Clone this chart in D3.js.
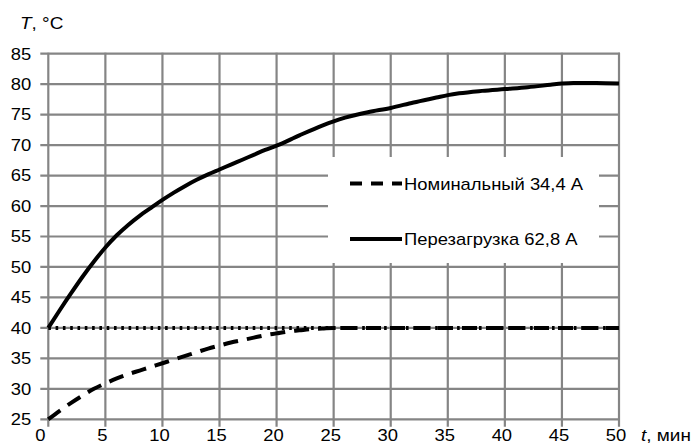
<!DOCTYPE html>
<html>
<head>
<meta charset="utf-8">
<script src="https://cdn.jsdelivr.net/npm/d3@7"></script>
<style>
  html, body { margin: 0; padding: 0; background: #fff; }
  svg { display: block; }
  text { font-family: "Liberation Sans", Arial, sans-serif; fill: #000; }
</style>
</head>
<body>
<svg id="chart" width="699" height="448"></svg>
<script>
// Heating curves of a conductor: temperature vs time
const xTicks = [0, 5, 10, 15, 20, 25, 30, 35, 40, 45, 50];
const yTicks = [25, 30, 35, 40, 45, 50, 55, 60, 65, 70, 75, 80, 85];

// Overload current 62,8 A
const overloadTime = [0, 1, 2, 3, 4, 5, 6, 7, 8, 9, 10, 11, 12, 13, 14, 15, 16, 17, 18, 19, 20,
                      22, 24, 25, 26, 28, 30, 32, 34, 35, 36, 38, 40, 42, 44, 45, 46, 48, 50];
const overloadTemp = [40, 42.9, 45.7, 48.4, 50.9, 53.2, 55.2, 56.9, 58.4, 59.7, 61.0, 62.2, 63.3, 64.3, 65.2, 66.0, 66.8, 67.6, 68.4, 69.2, 69.9,
                      71.6, 73.2, 73.9, 74.5, 75.4, 76.1, 77.0, 77.8, 78.2, 78.5, 78.9, 79.2, 79.5, 79.9, 80.1, 80.2, 80.2, 80.1];

// Nominal current 34,4 A
const nominalTime = [0, 1, 2, 3, 4, 5, 6, 7, 8, 9, 10, 11, 12, 13, 14, 15, 16, 17, 18, 19, 20,
                     21, 22, 23, 24, 25, 30, 35, 40, 45, 50];
const nominalTemp = [25, 26.4, 27.7, 28.9, 30.0, 30.9, 31.7, 32.4, 33.0, 33.6, 34.2, 34.8, 35.4, 36.0, 36.6, 37.1, 37.6, 38.0, 38.4, 38.8, 39.1,
                     39.4, 39.6, 39.8, 39.9, 40, 40, 40, 40, 40, 40];

// Reference level 40 °C
const levelTime = [0, 50];
const levelTemp = [40, 40];

const legendLabels = ["Номинальный 34,4 А", "Перезагрузка 62,8 А"];

const svg = d3.select("#chart");
const SX = 1.15;          // horizontal text stretch
const FS = 16;

const x = d3.scaleLinear().domain([0, 50]).range([48.3, 619]);
const y = d3.scaleLinear().domain([25, 85]).range([419.3, 53.7]);

function label(parent, px, py, anchor, build) {
  const g = parent.append("g").attr("transform", `translate(${px},${py}) scale(${SX},1)`);
  const t = g.append("text").attr("text-anchor", anchor).attr("font-size", FS);
  build(t);
  return t;
}

// grid
const grid = svg.append("g").attr("stroke", "#858585").attr("stroke-width", 2.2);
grid.selectAll("line.h").data(yTicks).join("line")
  .attr("class", "h")
  .attr("x1", x(0) - 8).attr("x2", x(50) + 1)
  .attr("y1", d => y(d)).attr("y2", d => y(d));
grid.selectAll("line.v").data(xTicks).join("line")
  .attr("class", "v")
  .attr("x1", d => x(d)).attr("x2", d => x(d))
  .attr("y1", y(85) - 1).attr("y2", y(25) + 7.5);

// tick labels
yTicks.forEach(v => label(svg, x(0) - 17, y(v) + 5.8, "end", t => t.text(v)));
xTicks.forEach(v => label(svg, x(v) - (v === 0 ? 8 : 3), 441, "middle", t => t.text(v)));

// axis titles
label(svg, 20, 29, "start", t => {
  t.append("tspan").attr("font-style", "italic").text("T");
  t.append("tspan").text(", °C");
}).attr("font-size", 16.5);
label(svg, 641, 441, "start", t => {
  t.append("tspan").attr("font-style", "italic").text("t");
  t.append("tspan").text(", мин");
}).attr("font-size", 16.5);

// legend box
const lg = { x0: 328, y0: 157, x1: 599, y1: 263 };
svg.append("rect")
  .attr("x", lg.x0).attr("y", lg.y0)
  .attr("width", lg.x1 - lg.x0).attr("height", lg.y1 - lg.y0)
  .attr("fill", "#fff");

// series
const line = d3.line().x(d => x(d[0])).y(d => y(d[1])).curve(d3.curveMonotoneX);
const zip = (a, b) => a.map((v, i) => [v, b[i]]);

svg.append("path")
  .datum(zip(levelTime, levelTemp))
  .attr("d", line)
  .attr("fill", "none").attr("stroke", "#000").attr("stroke-width", 4)
  .attr("stroke-dasharray", "2.6,4.7");

svg.append("path")
  .datum(zip(nominalTime, nominalTemp))
  .attr("d", line)
  .attr("fill", "none").attr("stroke", "#000").attr("stroke-width", 4)
  .attr("stroke-dasharray", "15,9");

svg.append("path")
  .datum(zip(overloadTime, overloadTemp))
  .attr("d", line)
  .attr("fill", "none").attr("stroke", "#000").attr("stroke-width", 4)
  .attr("stroke-linejoin", "round");

// legend entries
const legendRows = [
  { y: 183.5, dash: "12,9", text: legendLabels[0] },
  { y: 239, dash: null, text: legendLabels[1] }
];
legendRows.forEach(r => {
  svg.append("line")
    .attr("x1", 350).attr("x2", 402).attr("y1", r.y).attr("y2", r.y)
    .attr("stroke", "#000").attr("stroke-width", 4)
    .attr("stroke-dasharray", r.dash);
  label(svg, 404, r.y + 6, "start", t => t.text(r.text));
});
</script>
</body>
</html>
